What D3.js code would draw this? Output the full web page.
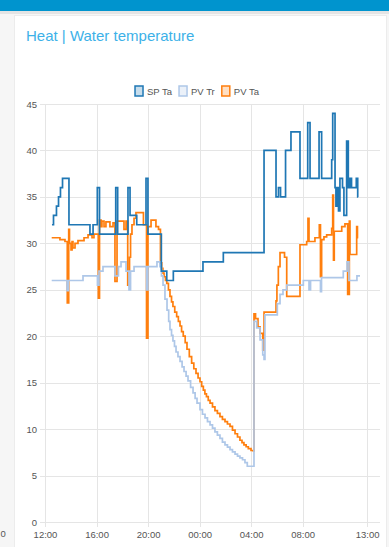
<!DOCTYPE html>
<html lang="en">
<head>
    <meta charset="UTF-8">
    <meta name="viewport" content="width=device-width, initial-scale=1.0">
    <title>Heat | Water temperature</title>

    <!-- D3.js -->
    <script src="https://d3js.org/d3.v7.min.js"></script>

    <style>
        body {
            margin: 0;
            padding: 0;
            background: #f5f5f5;
            font-family: "Liberation Sans", Arial, Helvetica, sans-serif;
        }

        .title {
            font-size: 15px;
            fill: #3db1e8;
        }

        .grid line {
            stroke: #e5e5e5;
            shape-rendering: crispEdges;
        }

        .grid text {
            font-size: 9.5px;
            fill: #555;
        }

        .legend text {
            font-size: 9.5px;
            fill: #555;
        }

        .series {
            fill: none;
            stroke-width: 1.7px;
            stroke-linejoin: miter;
        }
    </style>
</head>
<body>
    <div id="canvas"></div>
    <script>
        // series names and colours
        var seriesNames = ["SP Ta", "PV Tr", "PV Ta"];
        var seriesColors = ["#1f77b4", "#aec7e8", "#ff7f0e"];

        // tick labels: hours after 12:00 of the first day
        var xTickHours = [0, 4, 8, 12, 16, 20, 25];
        var yTicks = [0, 5, 10, 15, 20, 25, 30, 35, 40, 45];

        // [hours after 12:00, temperature]
        var spTa = [
            [0.54, 32], [0.66, 33], [0.89, 34], [1.05, 35], [1.20, 36], [1.36, 37], [1.86, 32],
            [3.49, 31], [3.73, 32], [4.06, 36], [4.23, 31], [5.49, 36], [5.64, 31], [6.44, 36],
            [6.60, 33], [7.12, 32], [7.84, 37], [7.99, 31], [9.03, 27], [9.45, 26], [9.96, 27],
            [12.26, 28], [13.84, 29], [17.0, 40], [17.93, 35], [18.12, 36], [18.28, 35], [18.67, 40],
            [19.09, 42], [19.79, 37], [20.39, 43], [20.57, 37], [21.27, 42], [21.47, 37], [22.25, 39],
            [22.33, 44], [22.51, 36], [22.58, 34], [22.70, 36], [22.78, 33.5], [22.89, 37], [23.09, 36],
            [23.20, 33], [23.41, 41], [23.54, 36], [23.67, 37], [23.79, 36], [24.16, 37], [24.27, 35],
            [24.31, 35]
        ];

        var pvTr = [
            [0.52, 26.0], [1.71, 24.9], [1.82, 26.0], [2.95, 26.5], [4.07, 25.5], [4.19, 27.0],
            [4.50, 27.5], [5.43, 26.5], [5.70, 27.5], [5.90, 28.0], [6.29, 27.0], [6.52, 25.0],
            [6.64, 27.0], [6.91, 27.5], [7.88, 25.0], [7.99, 27.5], [8.69, 28.0], [8.92, 27.5],
            [9.04, 26.5], [9.16, 25.5], [9.31, 24.0], [9.47, 22.8], [9.60, 21.6], [9.70, 20.7],
            [9.82, 20.1], [9.93, 19.5], [10.05, 18.9], [10.17, 18.3], [10.32, 17.8], [10.48, 17.3],
            [10.64, 16.7], [10.79, 16.2], [10.95, 15.7], [11.10, 15.2], [11.30, 14.5], [11.49, 13.9],
            [11.65, 13.3], [11.80, 12.8], [12.03, 12.1], [12.22, 11.6], [12.42, 11.2], [12.61, 10.8],
            [12.81, 10.45], [13.00, 10.1], [13.19, 9.7], [13.38, 9.35], [13.58, 9.0], [13.77, 8.6],
            [13.97, 8.3], [14.16, 8.05], [14.36, 7.8], [14.55, 7.55], [14.75, 7.3], [14.94, 7.1],
            [15.13, 6.9], [15.33, 6.7], [15.52, 6.4], [15.70, 6.0], [16.22, 21.6],
            [16.43, 20.9], [16.69, 19.6], [16.90, 18.0], [17.0, 17.5], [17.07, 22.3], [18.03, 23.5],
            [18.24, 24.5], [18.47, 25.0], [18.76, 25.5], [20.05, 26.0], [20.49, 25.0], [20.61, 26.0],
            [21.38, 24.8], [21.46, 26.3], [23.15, 27.0], [23.44, 28.0], [23.59, 26.0], [24.21, 26.5],
            [24.45, 26.5]
        ];

        var pvTa = [
            [0.52, 30.6], [1.16, 30.4], [1.55, 30.2], [1.73, 23.6], [1.84, 31.5], [1.90, 30.0],
            [2.02, 29.3], [2.10, 30.2], [2.17, 29.5], [2.33, 30.0], [2.56, 30.3], [3.03, 30.6],
            [3.34, 30.9], [3.65, 30.6], [3.80, 31.0], [4.14, 24.1], [4.23, 32.5], [4.35, 31.8],
            [4.42, 32.4], [4.58, 31.8], [4.73, 32.3], [5.04, 31.8], [5.28, 32.2], [5.43, 25.9],
            [5.59, 32.4], [6.13, 31.5], [6.29, 32.4], [6.42, 25.5], [6.56, 28.5], [6.64, 31.0],
            [6.75, 32.0], [6.91, 32.7], [7.06, 33.3], [7.64, 32.0], [7.88, 19.8], [7.99, 31.8],
            [8.23, 32.5], [8.61, 31.8], [8.81, 31.5], [8.96, 27.9], [9.06, 27.3], [9.15, 26.8],
            [9.24, 26.4], [9.35, 26.0], [9.45, 25.7], [9.58, 25.0], [9.70, 24.3], [9.82, 23.7],
            [9.93, 23.2], [10.07, 22.6], [10.22, 22.1], [10.35, 21.6], [10.48, 21.1], [10.60, 20.5],
            [10.73, 20.0], [10.88, 19.3], [11.02, 18.6], [11.20, 17.8], [11.38, 17.1], [11.55, 16.5],
            [11.72, 16.0], [11.88, 15.5], [12.03, 15.1], [12.16, 14.6], [12.29, 14.2], [12.41, 13.8],
            [12.53, 13.5], [12.67, 13.1], [12.81, 12.8], [13.00, 12.4], [13.19, 12.0], [13.38, 11.7],
            [13.58, 11.35], [13.77, 11.05], [13.97, 10.8], [14.16, 10.55], [14.36, 10.3], [14.55, 9.9],
            [14.75, 9.5], [14.94, 9.15], [15.13, 8.8], [15.29, 8.55], [15.44, 8.3], [15.61, 8.1],
            [15.78, 7.9], [15.99, 7.7], [16.17, 7.65], [16.22, 22.4],
            [16.34, 21.9], [16.53, 21.0], [16.69, 20.3], [16.90, 18.5], [17.0, 22.6], [17.93, 23.8],
            [18.0, 25.5], [18.11, 27.5], [18.24, 29.0], [18.59, 28.5], [18.76, 24.3], [19.79, 29.85],
            [20.31, 30.2], [20.41, 32.7], [20.49, 30.2], [20.95, 30.6], [21.29, 32.0], [21.38, 26.4],
            [21.47, 30.4], [21.65, 30.7], [21.86, 30.9], [22.25, 31.6], [22.33, 35.2], [22.39, 28.2],
            [22.45, 31.3], [23.03, 31.8], [23.28, 32.1], [23.49, 24.5], [23.62, 32.4], [23.67, 28.8],
            [24.19, 31.8], [24.25, 30.6], [24.31, 30.6]
        ];

        // page size and plot box
        var W = 389, H = 547;
        var plot = {left: 45, right: 380, top: 104, bottom: 522};
        var startTime = new Date(2020, 0, 1, 12, 0);

        function toDate(h) {
            return new Date(startTime.getTime() + h * 3600 * 1000);
        }

        var svg = d3.select("#canvas")
            .append("svg")
            .attr("width", W)
            .attr("height", H)
            .style("display", "block");

        // page background, header bar and card
        svg.append("rect").attr("width", W).attr("height", H).attr("fill", "#f6f6f6");
        svg.append("rect").attr("x", 0).attr("y", 11).attr("width", W).attr("height", 3).attr("fill", "#e4e4e4");
        svg.append("rect").attr("width", W).attr("height", 11).attr("fill", "#0094ce");
        svg.append("rect")
            .attr("x", 14.5).attr("y", 15.5)
            .attr("width", 372).attr("height", 540)
            .attr("fill", "#fff")
            .attr("stroke", "#ececec");

        // last digit of the neighbouring chart's axis label, peeking in on the left
        svg.append("text")
            .attr("x", 0.5).attr("y", 537)
            .style("font-size", "9.5px")
            .style("fill", "#555")
            .text("0");

        svg.append("text")
            .attr("class", "title")
            .attr("x", 26)
            .attr("y", 41)
            .text("Heat | Water temperature");

        var x = d3.scaleTime()
            .domain([toDate(0), toDate(26)])
            .range([plot.left, plot.right]);

        var y = d3.scaleLinear()
            .domain([0, 45])
            .range([plot.bottom, plot.top]);

        // horizontal grid + y labels
        var yAxis = svg.append("g")
            .attr("class", "grid")
            .attr("transform", "translate(" + (plot.left - 5) + ",0)")
            .call(d3.axisLeft(y)
                .tickValues(yTicks)
                .tickSizeInner(-(plot.right - plot.left + 5))
                .tickSizeOuter(0)
                .tickPadding(3));
        yAxis.select(".domain").remove();

        // vertical grid + x labels
        var xAxis = svg.append("g")
            .attr("class", "grid")
            .attr("transform", "translate(0," + (plot.bottom + 5) + ")")
            .call(d3.axisBottom(x)
                .tickValues(xTickHours.map(toDate))
                .tickFormat(d3.timeFormat("%H:%M"))
                .tickSizeInner(-(plot.bottom + 5 - plot.top))
                .tickSizeOuter(0)
                .tickPadding(4));
        xAxis.select(".domain").remove();

        var line = d3.line()
            .curve(d3.curveStepAfter)
            .x(function(d) { return x(toDate(d[0])); })
            .y(function(d) { return y(d[1]); });

        var allSeries = [spTa, pvTr, pvTa];

        // draw the last dataset first so SP Ta sits on top
        [2, 1, 0].forEach(function(i) {
            svg.append("path")
                .datum(allSeries[i])
                .attr("class", "series")
                .attr("stroke", seriesColors[i])
                .attr("d", line);
        });

        // legend
        var legend = svg.append("g").attr("class", "legend");
        var items = legend.selectAll("g")
            .data(seriesNames)
            .enter().append("g");

        items.append("rect")
            .attr("width", 8)
            .attr("height", 10)
            .attr("y", 86)
            .attr("fill", function(d, i) { return seriesColors[i]; })
            .attr("fill-opacity", 0.25)
            .attr("stroke", function(d, i) { return seriesColors[i]; })
            .attr("stroke-width", 1.5);

        items.append("text")
            .attr("x", 12)
            .attr("y", 95)
            .text(function(d) { return d; });

        var pos = 0;
        items.each(function() {
            var g = d3.select(this);
            g.attr("transform", "translate(" + pos + ",0)");
            pos += 12 + g.select("text").node().getComputedTextLength() + 7;
        });
        var legendWidth = pos - 7;
        legend.attr("transform", "translate(" + (197 - legendWidth / 2) + ",0)");
    </script>
</body>
</html>
